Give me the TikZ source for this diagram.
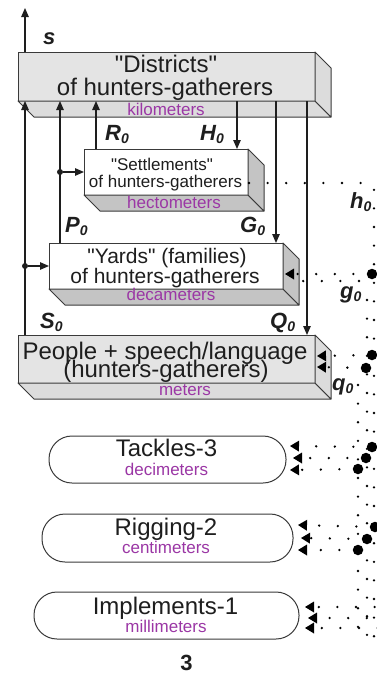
\documentclass[tikz,border=0pt]{standalone}
\usepackage{fontspec}
\setmainfont{Liberation Sans}[Ligatures=TeXOff]
\usetikzlibrary{arrows.meta,calc}

\definecolor{edge}{HTML}{3A3A3A}
\definecolor{ink}{HTML}{1E1E1E}
\definecolor{unit}{RGB}{155,55,165}
\definecolor{slabfront}{HTML}{E4E4E4}
\definecolor{slabface}{HTML}{DCDCDC}
\definecolor{blockface}{HTML}{C4C4C4}

\newcommand\fs[1]{\fontsize{#1}{#1}\selectfont}
\newcommand\idx[2]{\textbf{\textit{#1\raisebox{-0.3ex}{\fs{14}#2}}}}

% bottom and right faces of a slab whose front face is node #1
\newcommand\slabfaces[2]{%
  \filldraw[face, fill=#2] (#1.south west) -- (#1.south east) -- ++(16,16)
     -- ($(#1.south west)+(16,16)$) -- cycle;
  \filldraw[face, fill=#2] (#1.north east) -- ++(16,16)
     -- ($(#1.south east)+(16,16)$) -- (#1.south east) -- cycle;}

\tikzset{
  front/.style={draw=edge, line width=1pt, inner sep=0pt, outer sep=0pt},
  pill/.style={draw=edge, line width=1pt, fill=white, rounded corners=23pt,
               inner sep=0pt, outer sep=0pt},
  face/.style={draw=edge, line width=1pt, line join=round},
  txt/.style={anchor=base, text=ink, inner sep=0pt, outer sep=0pt},
  big/.style={txt, font=\fs{24}},
  mid/.style={txt, font=\fs{21}},
  small/.style={txt, font=\fs{17}},
  units/.style={anchor=base, text=unit, inner sep=0pt, font=\fs{17}},
  lab/.style={anchor=base west, text=ink, inner sep=0pt, font=\fs{22}},
  wire/.style={draw=ink, line width=1.2pt},
  arr/.style={wire, -{Triangle[length=9pt,width=7.5pt]}},
  joint/.style={circle, fill=ink, inner sep=0pt, minimum size=6pt},
  knot/.style={circle, fill=black, inner sep=0pt, minimum size=10.5pt},
  dotrun/.style={draw=black, line width=2.6pt, line cap=round,
                 dash pattern=on 0pt off 18.6pt},
  dotlink/.style={dotrun, -{Triangle[length=9pt,width=11pt,line width=0pt]}},
}

\begin{document}
\begin{tikzpicture}[x=1pt,y=-1pt]
\useasboundingbox (0,0) rectangle (377,675);

% ---- levels drawn as slabs ----
\node[front, fill=slabfront, minimum width=297pt, minimum height=49pt]
  (districts) at (166.5,76.5) {};
\slabfaces{districts}{slabface}
\node[front, fill=white, minimum width=164pt, minimum height=46pt]
  (settlements) at (166,172) {};
\slabfaces{settlements}{blockface}
\node[front, fill=white, minimum width=234pt, minimum height=46pt]
  (yards) at (166,266) {};
\slabfaces{yards}{blockface}
\node[front, fill=slabfront, minimum width=297pt, minimum height=48pt]
  (people) at (166.5,359) {};
\slabfaces{people}{slabface}

% ---- levels drawn as pills ----
\node[pill, minimum width=237pt, minimum height=47pt] (tackles) at (167.5,459.5) {};
\node[pill, minimum width=251pt, minimum height=48pt] (rigging) at (167.5,538) {};
\node[pill, minimum width=265pt, minimum height=47pt] (implements) at (166.5,615.5) {};

% ---- texts ----
\node[big] (tD1) at (166,72) {"Districts"};
\node[big] (tD2) at (165,95) {of hunters-gatherers};
\node[units] (uD) at (166,115) {kilometers};
\node[small] (tS1) at (162,170) {"Settlements"};
\node[small] (tS2) at (165.5,187) {of hunters-gatherers};
\node[units] (uS) at (174,208) {hectometers};
\node[mid] (tY1) at (167,263) {"Yards" (families)};
\node[mid] (tY2) at (165,283) {of hunters-gatherers};
\node[units] (uY) at (171,300) {decameters};
\node[big] (tP1) at (165,359) {People + speech/language};
\node[big] (tP2) at (166,377) {(hunters-gatherers)};
\node[units] (uP) at (185,395) {meters};
\node[big] (tT) at (166.5,456) {Tackles-3};
\node[units] (uT) at (166.5,475) {decimeters};
\node[big] (tR) at (166,535) {Rigging-2};
\node[units] (uR) at (166,553) {centimeters};
\node[big] (tI) at (165.5,614) {Implements-1};
\node[units] (uI) at (166,632) {millimeters};
\node[txt, font=\fs{22}\bfseries] (num) at (186.5,670) {3};

% ---- solid connectors ----
\coordinate (cS) at (25,0);
\coordinate (cP) at (60,0);
\coordinate (cR) at (96,0);
\coordinate (cH) at (237,0);
\coordinate (cG) at (276,0);
\coordinate (cQ) at (307,0);
\coordinate (sTop) at (25,8);

\draw[arr] (districts.north -| cS) -- (sTop);
\draw[arr] (people.north -| cS) -- (districts.south -| cS);
\node[joint] (jS) at (yards.west -| cS) {};
\draw[arr] (jS) -- (yards.west);
\draw[arr] (yards.north -| cP) -- (districts.south -| cP);
\node[joint] (jP) at (settlements.west -| cP) {};
\draw[arr] (jP) -- (settlements.west);
\draw[arr] (settlements.north -| cR) -- (districts.south -| cR);
\draw[arr] (districts.south -| cH) -- (settlements.north -| cH);
\draw[arr] (districts.south -| cG) -- (yards.north -| cG);
\draw[arr] (districts.south -| cQ) -- (people.north -| cQ);

% ---- connector labels ----
\node[lab] (ls) at (43,44) {\textbf{\textit{s}}};
\node[lab] (lR) at (105,140) {\idx{R}{0}};
\node[lab] (lH) at (200,140) {\idx{H}{0}};
\node[lab] (lP) at (65,232) {\idx{P}{0}};
\node[lab] (lG) at (240,232) {\idx{G}{0}};
\node[lab] (lS) at (40,328) {\idx{S}{0}};
\node[lab] (lQ) at (270,328) {\idx{Q}{0}};
\node[lab] (lh) at (350,208) {\idx{h}{0}};
\node[lab] (lg) at (340,298) {\idx{g}{0}};
\node[lab] (lq) at (332,390) {\idx{q}{0}};

% ---- dotted links on the right ----
% vertical runs
\draw[dotrun] (374,189.8) -- (374,645);
\draw[dotrun] (367,300) -- (367,645);
\draw[dotrun] (358,385) -- (358,645);

% settlements
\coordinate (hFar) at (360.6,183);
\draw[dotrun] (hFar) -- ($(settlements.east)+(0,11)$);

% yards
\node[knot] (kY) at (372,274) {};
\coordinate (aY) at (285,274);
\draw[dotlink] (kY.center) -- (aY);
\draw[dotrun] (359,281) -- (303,281);

% people
\node[knot] (kP1) at (372,355) {};
\node[knot] (kP2) at (366,368) {};
\coordinate (aP1) at (317,356);
\coordinate (aP2) at (317,367);
\draw[dotlink] (kP1.center) -- (aP1);
\draw[dotlink] (kP2.center) -- (aP2);

% tackles
\node[knot] (kT1) at (372,447) {};
\node[knot] (kT2) at (366,458) {};
\node[knot] (kT3) at (358,469) {};
\coordinate (aT1) at (290,446);
\coordinate (aT2) at (293,458);
\coordinate (aT3) at (290,470);
\draw[dotlink] (kT1.center) -- (aT1);
\draw[dotlink] (kT2.center) -- (aT2);
\draw[dotlink] (kT3.center) -- (aT3);

% rigging
\node[knot] (kR1) at (375,527) {};
\node[knot] (kR2) at (367,539) {};
\node[knot] (kR3) at (358,550) {};
\coordinate (aR1) at (298,525);
\coordinate (aR2) at (301,538);
\coordinate (aR3) at (298,550);
\draw[dotlink] (kR1.center) -- (aR1);
\draw[dotlink] (kR2.center) -- (aR2);
\draw[dotlink] (kR3.center) -- (aR3);

% implements
\coordinate (fI1) at (374.6,607);
\coordinate (fI2) at (385.4,618);
\coordinate (fI3) at (377.6,628);
\coordinate (aI1) at (305,607);
\coordinate (aI2) at (308,618);
\coordinate (aI3) at (305,628);
\draw[dotlink] (fI1) -- (aI1);
\draw[dotlink] (fI2) -- (aI2);
\draw[dotlink] (fI3) -- (aI3);
\end{tikzpicture}
\end{document}
